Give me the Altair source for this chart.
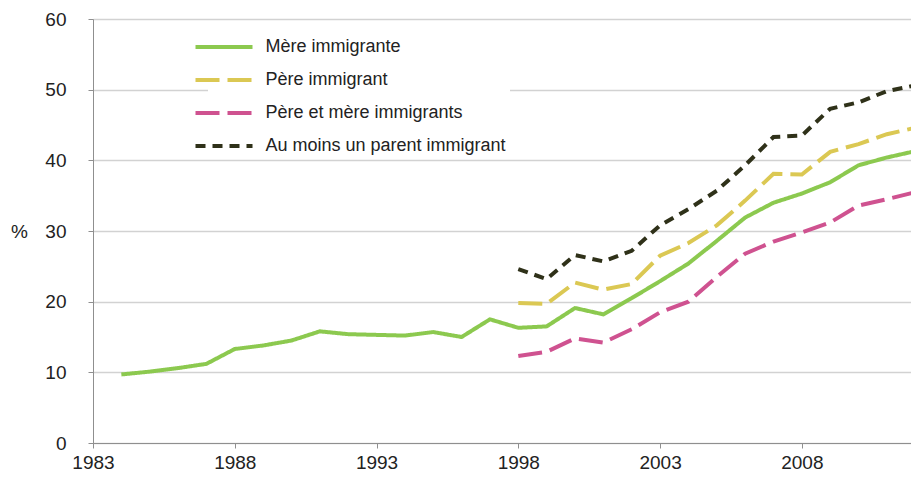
import altair as alt
import pandas as pd

years_mere = list(range(1984, 2013))
mere = [9.7, 10.1, 10.6, 11.2, 13.3, 13.8, 14.5, 15.8, 15.4, 15.3, 15.2, 15.7, 15.0,
        17.5, 16.3, 16.5, 19.1, 18.2, 20.5, 22.9, 25.4, 28.6, 31.9, 34.0, 35.3, 36.9,
        39.3, 40.4, 41.3]

years_late = list(range(1998, 2013))
pere = [19.8, 19.7, 22.7, 21.7, 22.5, 26.5, 28.3, 30.8, 34.3, 38.1, 38.0, 41.2, 42.3, 43.7, 44.6]
pere_mere = [12.3, 12.9, 14.8, 14.2, 16.1, 18.5, 20.0, 23.5, 26.8, 28.5, 29.8, 31.2, 33.6, 34.5, 35.5]
au_moins = [24.6, 23.2, 26.6, 25.7, 27.2, 30.8, 33.1, 35.7, 39.3, 43.3, 43.5, 47.3, 48.2, 49.8, 50.6]

series = ["Mère immigrante", "Père immigrant", "Père et mère immigrants", "Au moins un parent immigrant"]
colors = ["#8cc94f", "#dbc853", "#cf5290", "#2f3119"]
dashes = [[1, 0], [24, 8], [24, 8], [10, 7]]
x_ticks = [1983, 1988, 1993, 1998, 2003, 2008]
y_ticks = [0, 10, 20, 30, 40, 50, 60]

rows = []
for y, v in zip(years_mere, mere):
    rows.append({"annee": y, "valeur": v, "serie": series[0]})
for name, vals in zip(series[1:], [pere, pere_mere, au_moins]):
    for y, v in zip(years_late, vals):
        rows.append({"annee": y, "valeur": v, "serie": name})
df = pd.DataFrame(rows)

font = "Liberation Sans"
text_color = "#222222"

chart = alt.Chart(df).mark_line(strokeWidth=4, clip=True, strokeCap="butt", strokeJoin="miter").encode(
    x=alt.X("annee:Q",
            scale=alt.Scale(domain=[1983, 2011.85], nice=False, zero=False),
            axis=alt.Axis(values=x_ticks, format="d", title=None, grid=False,
                          domainColor="#8f8f8f", tickColor="#8f8f8f", tickSize=5,
                          labelPadding=5, labelFontSize=19, labelFont=font,
                          labelColor=text_color, labelFlush=False)),
    y=alt.Y("valeur:Q",
            scale=alt.Scale(domain=[0, 60], nice=False),
            axis=alt.Axis(values=y_ticks, title="%", titleAngle=0, titleX=-74, titleY=212,
                          titleAlign="center", titleBaseline="middle", titleFontSize=19,
                          titleFont=font, titleFontWeight="normal", titleColor=text_color,
                          grid=True, gridColor="#d2d2d2", gridWidth=1.5,
                          domainColor="#8f8f8f", tickColor="#8f8f8f", tickSize=5,
                          labelPadding=22, labelFontSize=19, labelFont=font,
                          labelColor=text_color)),
    color=alt.Color("serie:N",
                    scale=alt.Scale(domain=series, range=colors),
                    legend=alt.Legend(
                        title=None, orient="none", legendX=115, legendY=12,
                        fillColor="white", padding=4,
                        symbolType="M-2.85,0H2.85", symbolSize=400,
                        symbolStrokeWidth=4, rowPadding=12,
                        labelOffset=29.5, labelFontSize=18, labelFont=font,
                        labelColor=text_color, labelLimit=400)),
    strokeDash=alt.StrokeDash("serie:N",
                              scale=alt.Scale(domain=series, range=dashes),
                              legend=None),
    order=alt.Order("annee:Q"),
).properties(
    width=818, height=424,
    padding={"left": 85, "top": 11, "right": 0, "bottom": 32},
    autosize=alt.AutoSizeParams(type="none"),
).configure_view(stroke=None).configure(background="white")

chart.save("out.html", embed_options={"renderer": "svg", "actions": False})
